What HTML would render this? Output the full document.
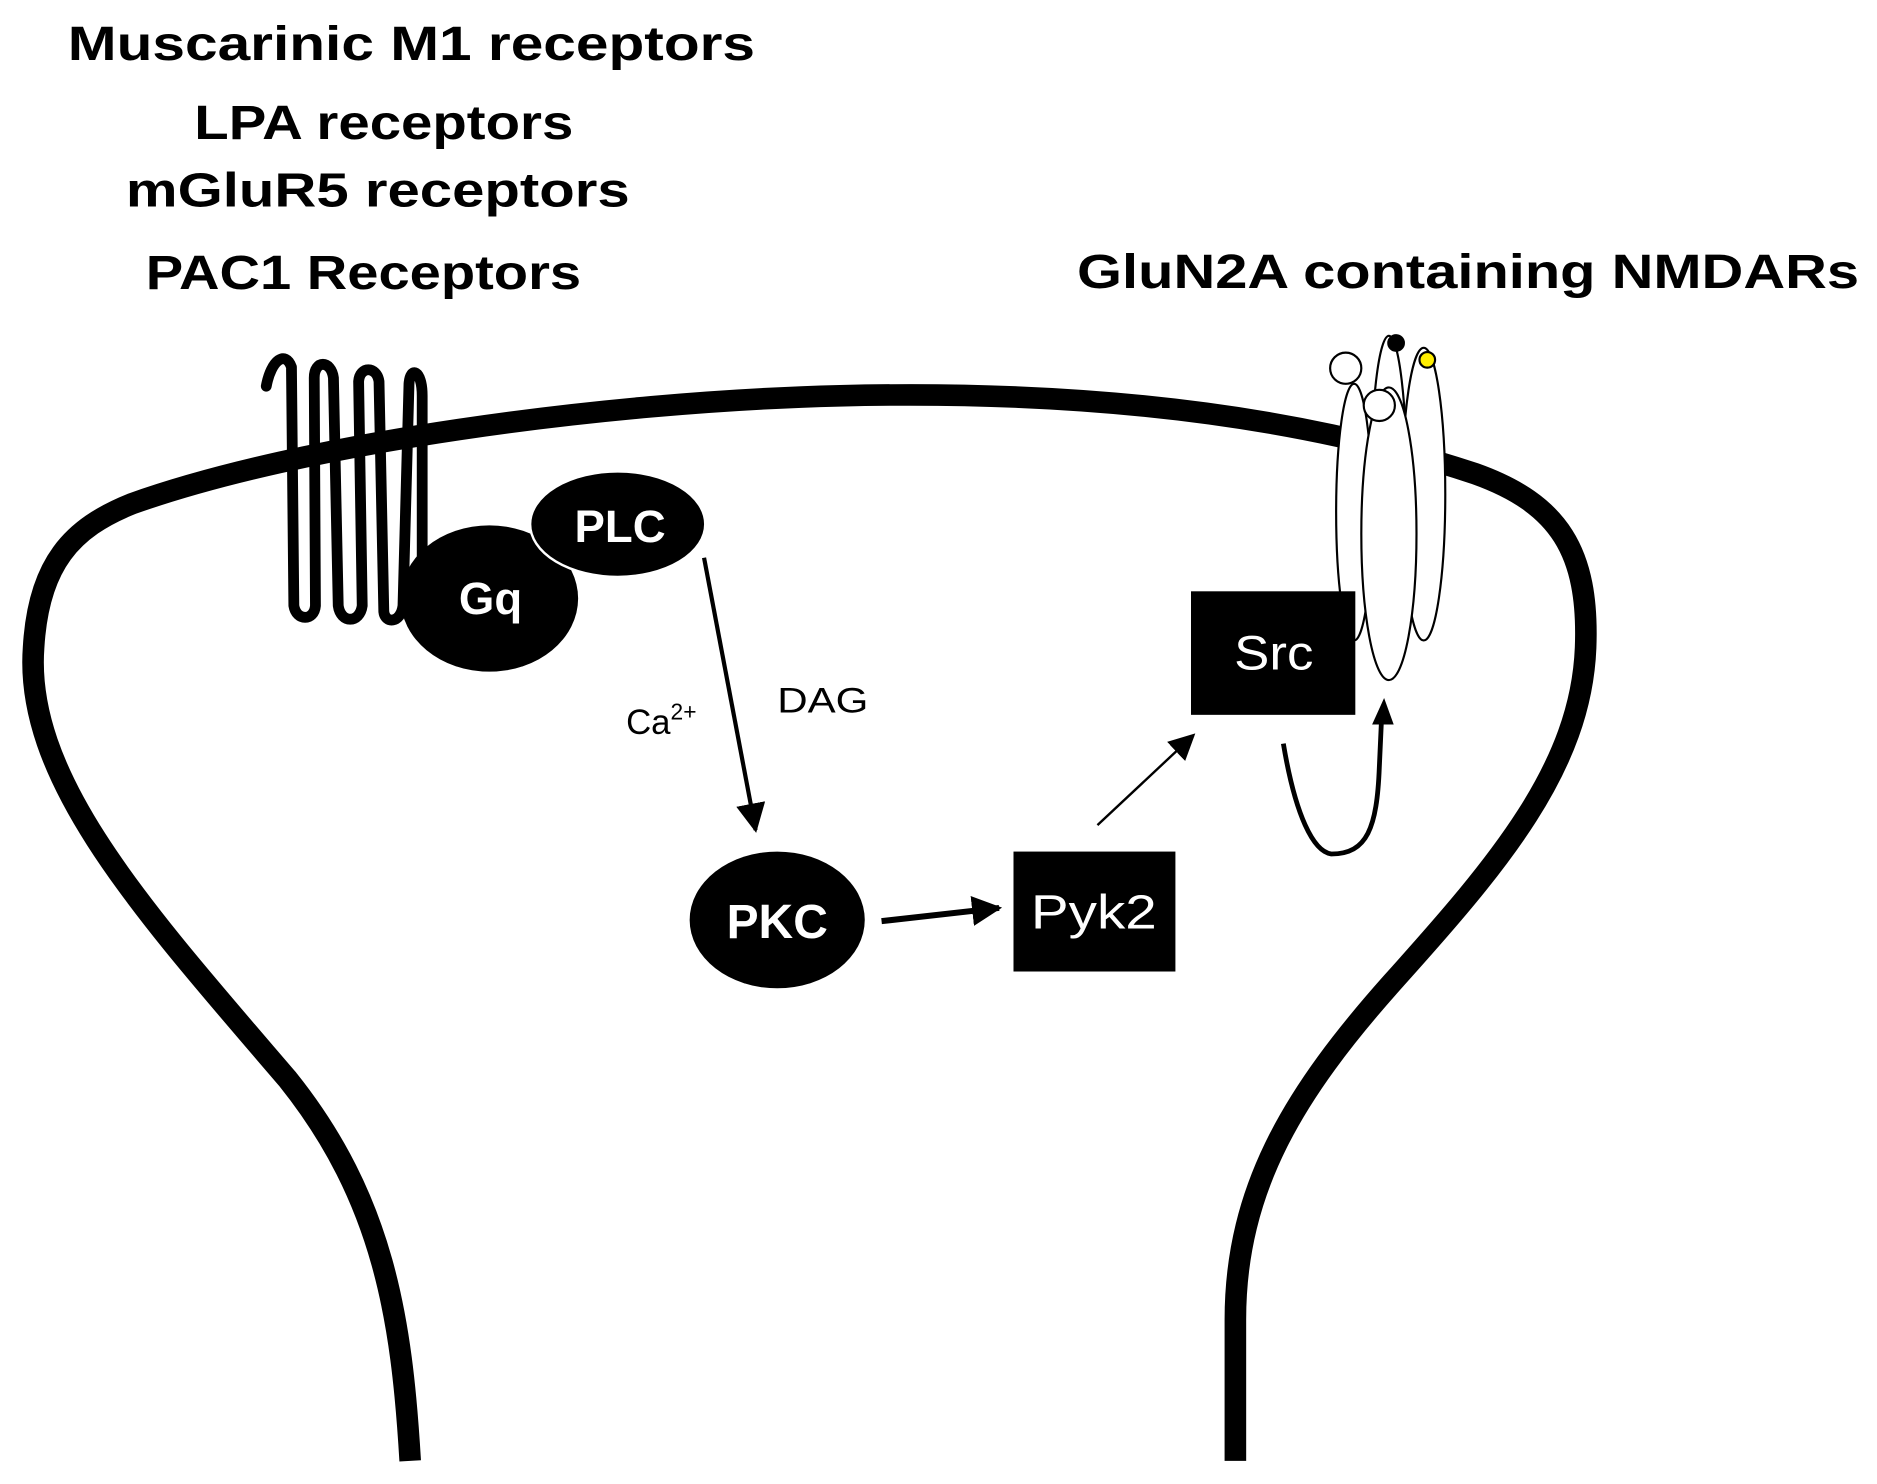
<!DOCTYPE html>
<html><head><meta charset="utf-8"><style>html,body{margin:0;padding:0;background:#fff;}svg{display:block;}</style></head>
<body>
<svg width="1877" height="1484" viewBox="0 0 1877 1484" xmlns="http://www.w3.org/2000/svg">
<defs>
<marker id="ah" viewBox="0 0 10 10" refX="9" refY="5" markerWidth="5" markerHeight="5" orient="auto" markerUnits="strokeWidth"><path d="M0,0 L10,5 L0,10 z" fill="#000"/></marker>
<marker id="ah2" viewBox="0 0 10 10" refX="9" refY="5" markerWidth="7" markerHeight="7" orient="auto" markerUnits="strokeWidth"><path d="M0,0 L10,5 L0,10 z" fill="#000"/></marker>
<marker id="ah3" viewBox="0 0 10 10" refX="9" refY="5" markerWidth="11" markerHeight="11" orient="auto" markerUnits="strokeWidth"><path d="M0,0 L10,5 L0,10 z" fill="#000"/></marker>
</defs>
<g transform="scale(1.1994)">
<rect width="1565" height="1237" fill="#fff"/>
<g font-family="Liberation Sans, sans-serif" font-weight="bold" font-size="40" text-anchor="middle" fill="#000">
<text x="343" y="50" textLength="573" lengthAdjust="spacingAndGlyphs">Muscarinic M1 receptors</text>
<text x="320" y="116" textLength="316" lengthAdjust="spacingAndGlyphs">LPA receptors</text>
<text x="315" y="172" textLength="420" lengthAdjust="spacingAndGlyphs">mGluR5 receptors</text>
<text x="303" y="241" textLength="363" lengthAdjust="spacingAndGlyphs">PAC1 Receptors</text>
<text x="1224" y="240" textLength="652" lengthAdjust="spacingAndGlyphs">GluN2A containing NMDARs</text>
</g>
<path d="M342,1218 C335,1100 320,1000 240,900 C120,760 20,650 28,540 C32,470 60,440 110,420 C250,370 500,335 700,330 C900,325 1080,345 1230,395 C1300,420 1325,460 1322,540 C1318,640 1250,720 1160,820 C1080,910 1030,990 1030,1100 L1030,1218" fill="none" stroke="#000" stroke-width="18"/>
<path d="M222,322 C226,300 238,292 243,306 L245,505 C247,518 262,518 263,505 L262,315 C262,300 276,300 278,315 L282,505 C284,520 300,520 302,505 L299,318 C300,305 314,305 316,318 L320,510 C321,520 334,520 336,505 L341,320 C342,305 352,308 352,330 L352,470" fill="none" stroke="#000" stroke-width="9" stroke-linecap="round" stroke-linejoin="round"/>
<ellipse cx="408" cy="499" rx="74" ry="61" fill="#000"/>
<ellipse cx="515" cy="437" rx="73" ry="44" fill="#000" stroke="#fff" stroke-width="2"/>
<ellipse cx="648" cy="767" rx="73" ry="57" fill="#000"/>
<rect x="845" y="710" width="135" height="100" fill="#000"/>
<g font-family="Liberation Sans, sans-serif" font-weight="bold" fill="#fff" text-anchor="middle">
<text x="409" y="512" font-size="38">Gq</text>
<text x="517" y="452" font-size="38">PLC</text>
<text x="648" y="782" font-size="40">PKC</text>
</g>
<text x="912" y="774" font-family="Liberation Sans, sans-serif" font-size="40" fill="#fff" text-anchor="middle" textLength="105" lengthAdjust="spacingAndGlyphs">Pyk2</text>
<line x1="587" y1="465" x2="630" y2="692" stroke="#000" stroke-width="3.5" marker-end="url(#ah2)"/>
<line x1="735" y1="768" x2="833" y2="757" stroke="#000" stroke-width="5" marker-end="url(#ah)"/>
<line x1="915" y1="688" x2="995" y2="613" stroke="#000" stroke-width="2" marker-end="url(#ah3)"/>
<path d="M1070,620 C1080,680 1095,710 1110,712 C1140,712 1148,690 1150,640 L1152,596" fill="none" stroke="#000" stroke-width="4"/>
<path d="M1144,604 L1154,582 L1162,604 z" fill="#000"/>
<g font-family="Liberation Sans, sans-serif" font-size="29" fill="#000">
<text x="522" y="612">Ca<tspan font-size="19" dy="-12">2+</tspan></text>
<text x="648" y="594" textLength="76" lengthAdjust="spacingAndGlyphs">DAG</text>
</g>
<g stroke="#000" stroke-width="1.8" fill="#fff">
<ellipse cx="1158" cy="405" rx="15" ry="125"/>
<circle cx="1164" cy="286" r="6.5" fill="#000"/>
<ellipse cx="1129" cy="427" rx="15" ry="107"/>
<rect x="993" y="493" width="137" height="103" fill="#000" stroke="none"/>
<ellipse cx="1187" cy="412" rx="18" ry="122"/>
<circle cx="1190" cy="300" r="6.5" fill="#ffee00"/>
<circle cx="1122" cy="307" r="13"/>
<ellipse cx="1158" cy="445" rx="23" ry="122"/>
<circle cx="1150" cy="338" r="13"/>
</g>
<text x="1062" y="558" font-family="Liberation Sans, sans-serif" font-size="40" fill="#fff" text-anchor="middle" textLength="66" lengthAdjust="spacingAndGlyphs">Src</text>
</g>
</svg>
</body></html>
